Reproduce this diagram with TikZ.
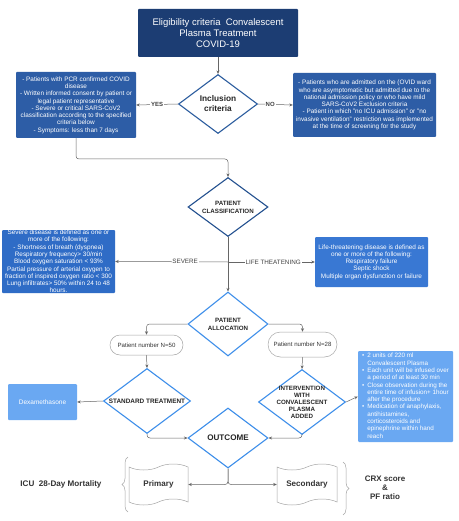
\documentclass[tikz,border=0pt]{standalone}
\usepackage{fontspec}
\setmainfont{Liberation Sans}
\usetikzlibrary{shapes.geometric,shapes.misc,shapes.symbols,arrows.meta,decorations.pathreplacing,calc}
\definecolor{navy}{HTML}{1C3D73}
\definecolor{midblue}{HTML}{2D5DA6}
\definecolor{sevblue}{HTML}{2F6CC6}
\definecolor{lifeblue}{HTML}{3978D3}
\definecolor{lightblue}{HTML}{6AA8F2}
\definecolor{dkborder}{HTML}{2B5C9E}
\definecolor{clborder}{HTML}{23508F}
\definecolor{brborder}{HTML}{3D8EEA}
\definecolor{conn}{HTML}{666666}
\begin{document}
\begin{tikzpicture}[x=1pt,y=-1pt,
  box/.style={rectangle, rounded corners=1pt, inner sep=0pt, draw=none},
  boxtxt/.style={font=\fontsize{6.4}{7.3}\selectfont, text=white, align=center, inner sep=0pt},
  dia/.style={diamond, draw, line width=1.1pt, fill=white, inner sep=0pt},
  dlab/.style={font=\bfseries\fontsize{6.2}{8}\selectfont, align=center, text=black!85, inner sep=0pt},
  arr/.style={draw=conn, line width=0.5pt, -{Stealth[length=3.5pt,width=3pt]}},
  ln/.style={draw=conn, line width=0.5pt},
  elab/.style={font=\fontsize{6.3}{7}\selectfont, text=black!75, fill=white, inner sep=0.8pt},
  pill/.style={rounded rectangle, draw=gray!70, line width=0.5pt, fill=white, font=\fontsize{6.1}{7}\selectfont, text=black!80, inner sep=0pt},
  doc/.style={tape, draw=gray!70, line width=0.5pt, fill=white, font=\bfseries\fontsize{8.1}{9}\selectfont, text=black!80, inner sep=0pt, tape bend height=6pt},
  brc/.style={draw=gray!70, line width=0.5pt, decorate, decoration={brace, amplitude=6pt}},
  outtxt/.style={font=\bfseries\fontsize{8.1}{9.5}\selectfont, text=black!80, align=center}
]
\useasboundingbox (0,0) rectangle (458,521);
\fill[white] (0,0) rectangle (458,521);

% title
\node[box, fill=navy, minimum width=160pt, minimum height=48pt, text=white,
      font=\fontsize{9.5}{10.8}\selectfont, align=center] (title) at (218,33)
  {Eligibility criteria\ \ Convalescent\\Plasma Treatment\\COVID-19};

% inclusion diamond
\node[dia, draw=dkborder, minimum width=79pt, minimum height=59pt,
      label={[dlab, font=\bfseries\fontsize{8.3}{10}\selectfont]center:Inclusion\\criteria}] (incl) at (218,104) {};

\node[box, fill=midblue, minimum width=120pt, minimum height=66pt,
      label={[boxtxt]center:- Patients with PCR confirmed COVID\\disease\\- Written informed consent by patient or\\legal patient representative\\- Severe or critical SARS-CoV2\\classification according to the specified\\criteria below\\- Symptoms: less than 7 days}] (inbox) at (76,105) {};

\node[box, fill=midblue, minimum width=143pt, minimum height=64pt,
      label={[boxtxt]center:- Patients who are admitted on the (OVID ward\\who are asymptomatic but admitted due to the\\national admission policy or who have mild\\SARS-CoV2 Exclusion criteria\\- Patient in which "no ICU admission" or "no\\invasive ventilation" restriction was implemented\\at the time of screening for the study}] (exbox) at (364.5,105) {};

% classification
\node[dia, draw=clborder, minimum width=80pt, minimum height=59pt,
      label={[dlab]center:PATIENT\\CLASSIFICATION}] (class) at (228,207) {};

\node[box, fill=sevblue, minimum width=113pt, minimum height=63pt,
      label={[boxtxt]center:Severe disease is defined as one or\\more of the following:\\- Shortness of breath (dyspnea)\\Respiratory frequency> 30/min\\Blood oxygen saturation < 93\%\\Partial pressure of arterial oxygen to\\fraction of inspired oxygen ratio < 300\\Lung infiltrates> 50\% within 24 to 48\\hours.}] (sevbox) at (58.5,261.5) {};

\node[box, fill=lifeblue, minimum width=113pt, minimum height=50pt,
      label={[boxtxt]center:Life-threatening disease is defined as\\one or more of the following:\\Respiratory failure\\Septic shock\\Multiple organ dysfunction or failure}] (lifebox) at (371.5,262) {};

% allocation
\node[dia, draw=brborder, minimum width=80pt, minimum height=64pt,
      label={[dlab]center:PATIENT\\ALLOCATION}] (alloc) at (228,324) {};

\node[pill, minimum width=73pt, minimum height=20pt] (p50) at (146.5,345) {Patient number N=50};
\node[pill, minimum width=69pt, minimum height=25pt] (p28) at (302.5,344.5) {Patient number N=28};

\node[dia, draw=brborder, minimum width=87pt, minimum height=65pt,
      label={[dlab, font=\bfseries\fontsize{6.4}{7}\selectfont]center:STANDARD TREATMENT}] (std) at (147,401) {};

\node[box, fill=lightblue, minimum width=69pt, minimum height=36pt,
      label={[boxtxt, font=\fontsize{6.5}{7}\selectfont]center:Dexamethasone}] (dexa) at (42.5,402) {};

\node[dia, draw=brborder, minimum width=87pt, minimum height=65pt,
      label={[dlab, font=\bfseries\fontsize{6.2}{7}\selectfont]center:INTERVENTION\\WITH\\CONVALESCENT\\PLASMA\\ADDED}] (interv) at (302,402) {};

\node[box, fill=lightblue, minimum width=95pt, minimum height=91pt,
      label={[boxtxt, align=left, font=\fontsize{6.3}{7.3}\selectfont]center:{\renewcommand\arraystretch{1}%
        \begin{tabular}{@{}l@{\hspace{3pt}}l@{}}
        \textbullet & 2 units of 220 ml\\
         & Convalescent Plasma\\
        \textbullet & Each unit will be infused over\\
         & a period of at least 30 min\\
        \textbullet & Close observation during the\\
         & entire time of infusion+ 1hour\\
         & after the procedure\\
        \textbullet & Medication of anaphylaxis,\\
         & antihistamines,\\
         & corticosteroids and\\
         & epinephrine within hand\\
         & reach
        \end{tabular}}}] (bull) at (405.5,396.5) {};

% outcome
\node[dia, draw=brborder, minimum width=80pt, minimum height=60pt,
      label={[dlab, font=\bfseries\fontsize{8.1}{9}\selectfont]center:OUTCOME}] (outc) at (228,438) {};

\node[doc, minimum width=59pt, minimum height=41pt] (prim) at (158.5,484.5) {Primary};
\node[doc, minimum width=60pt, minimum height=41pt] (sec) at (307,484.5) {Secondary};

\node[outtxt] (icu) at (61,484) {ICU\ \ 28-Day Mortality};
\node[outtxt, font=\bfseries\fontsize{8}{9}\selectfont] (crx) at (385,488) {CRX score\\\&\\PF ratio};

\coordinate (lb1) at (128,512);
\coordinate (lb2) at (128,457);
\coordinate (rb1) at (343,462);
\coordinate (rb2) at (343,515);
\draw[brc] (lb1) -- (lb2);
\draw[brc] (rb1) -- (rb2);

% connectors
\draw[arr] (title.south) -- (incl.north);
\draw[arr] (incl.west) -- node[elab, font=\bfseries\fontsize{6}{7}\selectfont] {YES} (inbox.east);
\draw[arr] (incl.east) -- node[elab, pos=0.35, font=\bfseries\fontsize{6}{7}\selectfont] {NO} (exbox.west);

\coordinate (jc) at (228,159);
\draw[arr, rounded corners=3pt] (inbox.south) |- (jc) -- (class.north);

\draw[arr] (class.south) -- (alloc.north);
\coordinate (br) at (228,262);
\draw[arr] (br) -- node[elab, pos=0.38] {SEVERE} (sevbox.east);
\draw[arr] (br) -- node[elab, pos=0.52] {LIFE THEATENING} (lifebox.west);

\draw[arr, rounded corners=3pt] (alloc.west) -| (p50.north);
\draw[arr, rounded corners=3pt] (alloc.east) -| (p28.north);
\draw[arr] (p50.south) -- (std.north);
\draw[arr] (p28.south) -- (interv.north);
\draw[arr] (std.west) -- (dexa.east);
\draw[arr] (interv.east) -- (bull.west);
\draw[arr, rounded corners=3pt] (std.south) |- (outc.west);
\draw[arr, rounded corners=3pt] (interv.south) |- (outc.east);

\coordinate (jb) at (228,483);
\draw[arr, rounded corners=3pt] (outc.south) |- (prim.east);
\draw[arr, rounded corners=3pt] (outc.south) |- (sec.west);
\end{tikzpicture}
\end{document}
